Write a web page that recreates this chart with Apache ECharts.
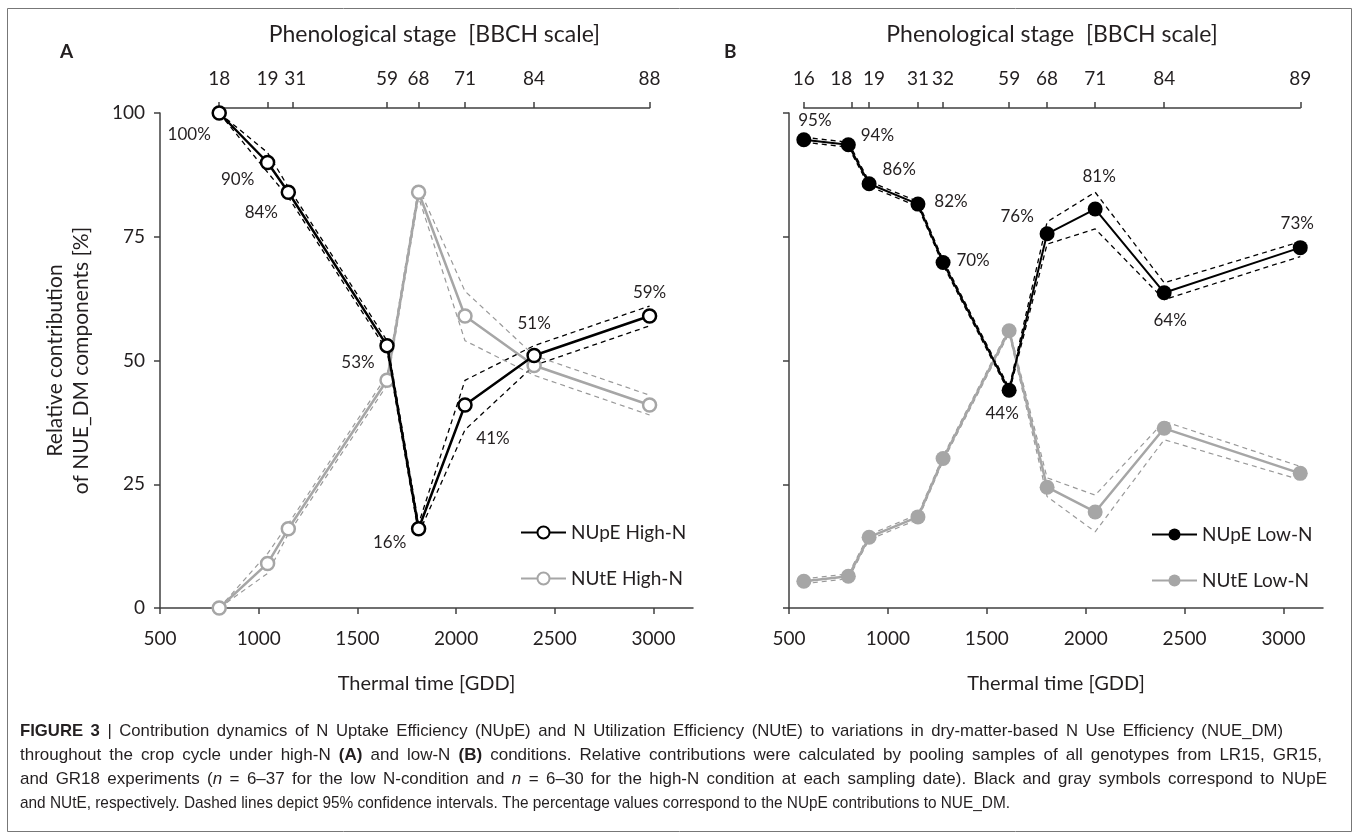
<!DOCTYPE html>
<html>
<head>
<meta charset="utf-8">
<script src="https://cdn.jsdelivr.net/npm/echarts@6/dist/echarts.min.js"></script>
<style>
  html, body { margin: 0; padding: 0; background: #fff; }
  #chart { width: 1360px; height: 839px; }
</style>
</head>
<body>
<div id="chart"></div>
<script>
// panel A (high N)
const stageA = ['18', '19', '31', '59', '68', '71', '84', '88'];
const stageGddA = [800, 1045, 1170, 1650, 1810, 2045, 2395, 2980];
const gddA = [800, 1045, 1150, 1650, 1810, 2045, 2395, 2980];
const nupeA = [100, 90, 84, 53, 16, 41, 51, 59];
const nupeHiA = [100, 92, 85, 54, 17, 46, 53, 61];
const nupeLoA = [100, 88, 83, 52, 15, 36, 49, 57];
const nuteA = [0, 9, 16, 46, 84, 59, 49, 41];
const nuteHiA = [0, 11, 17, 47, 85, 64, 51, 43];
const nuteLoA = [0, 7, 15, 45, 83, 54, 47, 39];

// panel B (low N)
const stageB = ['16', '18', '19', '31', '32', '59', '68', '71', '84', '89'];
const stageGddB = [575, 815, 905, 1152, 1279, 1613, 1805, 2048, 2397, 3085];
const gddB = [575, 800, 905, 1152, 1279, 1613, 1805, 2048, 2397, 3085];
const nupeB = [94.6, 93.6, 85.7, 81.6, 69.8, 44.0, 75.6, 80.6, 63.7, 72.8];
const nupeHiB = [95.1, 94.1, 86.2, 82.1, 70.3, 44.5, 78, 84, 65.7, 74];
const nupeLoB = [94.1, 93.1, 85.2, 81.1, 69.3, 43.5, 73.5, 76.6, 62.3, 71];
const nuteB = [5.4, 6.4, 14.3, 18.4, 30.2, 56.0, 24.4, 19.4, 36.3, 27.2];
const nuteHiB = [5.9, 6.9, 14.8, 18.9, 30.7, 56.5, 26.3, 22.8, 37.7, 28.6];
const nuteLoB = [4.9, 5.9, 13.8, 17.9, 29.7, 55.5, 22.5, 15.4, 34, 25.9];

const yTicks = [0, 25, 50, 75, 100];
const xTicks = [500, 1000, 1500, 2000, 2500, 3000];

const FONT = 'Lato, "Open Sans", sans-serif';
const CAP_FONT = '"Liberation Sans", Arial, sans-serif';
const INK = '#231f20';
const AXIS = '#404040';
const GRAY = '#a6a6a6';

const X_MIN = 500, X_MAX = 3200;
const gridA = { left: 160, top: 113, width: 533, height: 495 };
const gridB = { left: 789, top: 113, width: 534, height: 495 };

// top (BBCH) axis grids span only the first..last stage
function topGrid(g, gdd) {
  const k = g.width / (X_MAX - X_MIN);
  return {
    left: g.left + (gdd[0] - X_MIN) * k,
    width: (gdd[gdd.length - 1] - gdd[0]) * k,
    top: 98, height: 10
  };
}

const chart = echarts.init(document.getElementById('chart'));

function pts(xs, ys) { return xs.map((x, i) => [x, ys[i]]); }

function ciLine(idx, xs, ys, color, w) {
  return {
    type: 'line', xAxisIndex: idx, yAxisIndex: idx, silent: true,
    data: pts(xs, ys), symbol: 'none', z: 1,
    lineStyle: { color: color, width: w, type: [5, 4] }
  };
}

function mainLine(idx, name, xs, ys, opt, offsets) {
  return {
    type: 'line', name: name, xAxisIndex: idx, yAxisIndex: idx,
    data: pts(xs, ys).map((p, i) => offsets
      ? { value: p, label: { offset: offsets[i] } } : { value: p }),
    symbol: 'circle', symbolSize: opt.size, z: opt.z,
    lineStyle: { color: opt.line, width: opt.width },
    itemStyle: { color: opt.fill, borderColor: opt.line, borderWidth: opt.border },
    label: {
      show: !!offsets, position: 'inside', fontFamily: FONT, fontSize: 17, color: INK,
      formatter: p => Math.round(p.value[1]) + '%'
    }
  };
}

const labOffA = [[-30, 22], [-30, 17], [-27, 20], [-29, 17], [-29, 14], [28, 33], [0, -32], [0, -23]];
const labOffB = [[11, -19], [29, -9], [30, -14], [33, -3], [30, -2], [-7, 23], [-30, -17], [4, -33], [6, 28], [-3, -24]];
// small horizontal nudges of crowded BBCH labels
const topShiftA = [0, 0, 3, 0, 0, 0, 0, 0];
const topShiftB = [0, -10, 5, 0, 0, 0, 0, 0, 0, 0];

function bottomX(idx) {
  return {
    type: 'value', gridIndex: idx, min: X_MIN, max: X_MAX, interval: 500,
    name: 'Thermal time [GDD]', nameLocation: 'middle', nameGap: 66,
    nameTextStyle: { fontFamily: FONT, fontSize: 20, color: INK },
    axisLine: { lineStyle: { color: AXIS, width: 1.5 } },
    axisTick: { show: true, length: 6, customValues: xTicks, lineStyle: { color: AXIS, width: 1.5 } },
    axisLabel: { fontFamily: FONT, fontSize: 19, color: INK, margin: 21,
      customValues: xTicks, formatter: v => String(v) },
    splitLine: { show: false }
  };
}

function topX(idx, gdd, stages, shifts) {
  const rich = {};
  shifts.forEach((s, i) => {
    rich['s' + i] = { fontFamily: FONT, fontSize: 19, color: INK,
      padding: s < 0 ? [0, -2 * s, 0, 0] : [0, 0, 0, 2 * s] };
  });
  return {
    type: 'value', gridIndex: idx, position: 'top',
    min: gdd[0], max: gdd[gdd.length - 1],
    name: 'Phenological stage  [BBCH scale]', nameLocation: 'middle', nameGap: 52,
    nameTextStyle: { fontFamily: FONT, fontSize: 23, color: INK },
    axisLine: { lineStyle: { color: AXIS, width: 1.5 } },
    axisTick: { show: true, length: 6, customValues: gdd, lineStyle: { color: AXIS, width: 1.5 } },
    axisLabel: { fontFamily: FONT, fontSize: 19, color: INK, margin: 10,
      customValues: gdd, rich: rich,
      formatter: v => { const i = gdd.indexOf(v); return '{s' + i + '|' + stages[i] + '}'; } },
    splitLine: { show: false }
  };
}

function leftY(idx, showLabels) {
  return {
    type: 'value', gridIndex: idx, min: 0, max: 100, interval: 25,
    name: showLabels ? 'Relative contribution\nof NUE_DM components [%]' : '',
    nameLocation: 'middle', nameGap: 66, nameRotate: 90,
    nameTextStyle: { fontFamily: FONT, fontSize: 21, color: INK, lineHeight: 26 },
    axisLine: { show: true, lineStyle: { color: AXIS, width: 1.5 } },
    axisTick: { show: true, length: 6, lineStyle: { color: AXIS, width: 1.5 } },
    axisLabel: { show: showLabels, fontFamily: FONT, fontSize: 19, color: INK, margin: 15,
      customValues: yTicks },
    splitLine: { show: false }
  };
}

const hollowBlack = { size: 13, line: '#000', fill: '#fff', width: 2.5, border: 2.5, z: 3 };
const hollowGray = { size: 13, line: GRAY, fill: '#fff', width: 2.5, border: 2.5, z: 2 };
const solidBlack = { size: 15, line: '#000', fill: '#000', width: 2, border: 0, z: 3 };
const solidGray = { size: 15, line: GRAY, fill: GRAY, width: 2.5, border: 0, z: 2 };

// caption lines as [style, text] segments
const caption = [
  [['b', 'FIGURE 3'], ['', ' | Contribution dynamics of N Uptake Efficiency (NUpE) and N Utilization Efficiency (NUtE) to variations in dry-matter-based N Use Efficiency (NUE_DM)']],
  [['', 'throughout the crop cycle under high-N '], ['b', '(A)'], ['', ' and low-N '], ['b', '(B)'], ['', ' conditions. Relative contributions were calculated by pooling samples of all genotypes from LR15, GR15,']],
  [['', 'and GR18 experiments ('], ['i', 'n'], ['', ' = 6–37 for the low N-condition and '], ['i', 'n'], ['', ' = 6–30 for the high-N condition at each sampling date). Black and gray symbols correspond to NUpE']],
  [['', 'and NUtE, respectively. Dashed lines depict 95% confidence intervals. The percentage values correspond to the NUpE contributions to NUE_DM.']]
];
const captionWidth = [1263, 1302, 1307, 990];
const captionJustify = [true, true, true, false];
const CAP_SIZE = 17;
const CAP_X = 20, CAP_Y = 723, CAP_LEAD = 24;
const GLYPH_SHARE = 0.6;   // part of the justification taken by glyph width, rest by word gaps

const ctx = document.createElement('canvas').getContext('2d');
function segFont(st) {
  return (st === 'i' ? 'italic ' : '') + (st === 'b' ? 'bold ' : '') + CAP_SIZE + 'px ' + CAP_FONT;
}
function segWidth(segs) {
  return segs.reduce((w, [st, t]) => { ctx.font = segFont(st); return w + ctx.measureText(t).width; }, 0);
}
// split a line of styled segments into words, each word a list of segments
function toWords(segs) {
  const words = [[]];
  segs.forEach(([st, t]) => {
    t.split(' ').forEach((part, j) => {
      if (j > 0) words.push([]);
      if (part) words[words.length - 1].push([st, part]);
    });
  });
  return words.filter(w => w.length);
}
const capRich = {
  b: { fontFamily: CAP_FONT, fontSize: CAP_SIZE, fontWeight: 'bold', fill: INK },
  i: { fontFamily: CAP_FONT, fontSize: CAP_SIZE, fontStyle: 'italic', fill: INK }
};
const baseScale = captionWidth[caption.length - 1] / segWidth(caption[caption.length - 1]);
ctx.font = segFont('');
const spaceRaw = ctx.measureText(' ').width;

const captionGraphics = [];
caption.forEach((segs, li) => {
  const words = toWords(segs);
  const fullScale = captionWidth[li] / segWidth(segs);
  const sc = captionJustify[li] ? baseScale + GLYPH_SHARE * (fullScale - baseScale) : baseScale;
  const widths = words.map(w => segWidth(w) * sc);
  const total = widths.reduce((a, b) => a + b, 0);
  const gap = captionJustify[li] ? (captionWidth[li] - total) / (words.length - 1) : spaceRaw * sc;
  let x = CAP_X;
  words.forEach((w, wi) => {
    captionGraphics.push({
      type: 'text', x: x, y: CAP_Y + li * CAP_LEAD, scaleX: sc, silent: true,
      style: {
        text: w.map(([st, t]) => st ? '{' + st + '|' + t + '}' : t).join(''),
        fontFamily: CAP_FONT, fontSize: CAP_SIZE, fill: INK, verticalAlign: 'top', rich: capRich
      }
    });
    x += widths[wi] + gap;
  });
});

chart.setOption({
  animation: false,
  backgroundColor: '#fff',
  grid: [gridA, gridB, topGrid(gridA, stageGddA), topGrid(gridB, stageGddB)],
  xAxis: [bottomX(0), bottomX(1), topX(2, stageGddA, stageA, topShiftA), topX(3, stageGddB, stageB, topShiftB)],
  yAxis: [leftY(0, true), leftY(1, false),
    { gridIndex: 2, show: false }, { gridIndex: 3, show: false }],
  legend: [
    {
      data: ['NUpE High-N', 'NUtE High-N'], orient: 'vertical', left: 515, top: 518,
      itemWidth: 45, itemHeight: 15, itemGap: 27,
      textStyle: { fontFamily: FONT, fontSize: 19, color: INK }
    },
    {
      data: ['NUpE Low-N', 'NUtE Low-N'], orient: 'vertical', left: 1146, top: 520,
      itemWidth: 45, itemHeight: 15, itemGap: 27,
      textStyle: { fontFamily: FONT, fontSize: 19, color: INK }
    }
  ],
  series: [
    ciLine(0, gddA, nupeHiA, '#000', 1.3),
    ciLine(0, gddA, nupeLoA, '#000', 1.3),
    ciLine(0, gddA, nuteHiA, '#999', 1.2),
    ciLine(0, gddA, nuteLoA, '#999', 1.2),
    mainLine(0, 'NUpE High-N', gddA, nupeA, hollowBlack, labOffA),
    mainLine(0, 'NUtE High-N', gddA, nuteA, hollowGray, null),
    ciLine(1, gddB, nupeHiB, '#000', 1.3),
    ciLine(1, gddB, nupeLoB, '#000', 1.3),
    ciLine(1, gddB, nuteHiB, '#999', 1.2),
    ciLine(1, gddB, nuteLoB, '#999', 1.2),
    mainLine(1, 'NUtE Low-N', gddB, nuteB, solidGray, null),
    mainLine(1, 'NUpE Low-N', gddB, nupeB, solidBlack, labOffB)
  ],
  graphic: [
    { type: 'rect', shape: { x: 7.5, y: 8.5, width: 1344, height: 823 },
      style: { fill: 'none', stroke: '#777', lineWidth: 1 }, silent: true },
    { type: 'text', left: 60, top: 42,
      style: { text: 'A', fontFamily: FONT, fontSize: 19, fontWeight: 'bold', fill: INK } },
    { type: 'text', left: 724, top: 42,
      style: { text: 'B', fontFamily: FONT, fontSize: 19, fontWeight: 'bold', fill: INK } },
    ...captionGraphics
  ]
});
</script>
</body>
</html>
